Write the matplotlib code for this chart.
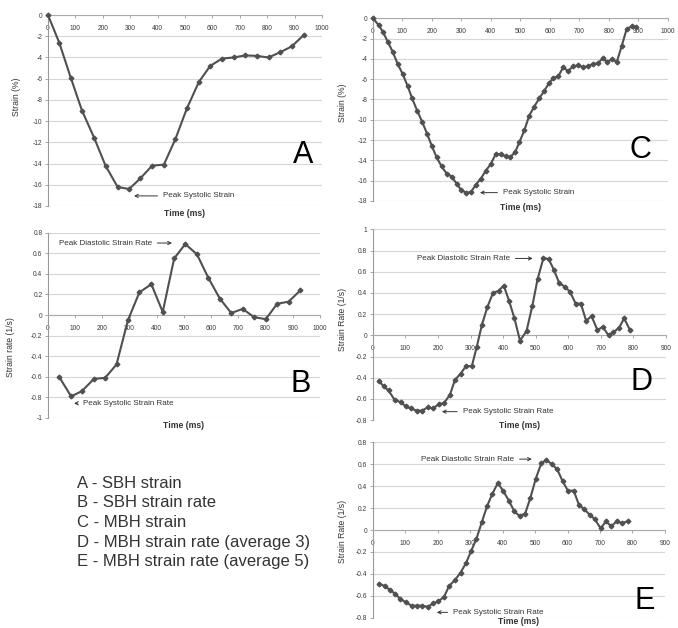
import matplotlib
matplotlib.use("Agg")
import matplotlib.pyplot as plt
from matplotlib.ticker import FuncFormatter
import numpy as np

plt.rcParams['font.family'] = ['Liberation Sans', 'DejaVu Sans']

# A - SBH strain
a_time = [0, 41, 83, 124, 169, 210, 254, 296, 337, 380, 423, 465, 507, 551, 592, 635, 678, 720, 763, 805, 848, 890, 933]
a_strain = [0, -2.6, -5.9, -9.0, -11.6, -14.2, -16.2, -16.4, -15.4, -14.2, -14.1, -11.7, -8.8, -6.3, -4.8, -4.1,
            -4.0, -3.8, -3.85, -4.0, -3.5, -2.95, -1.9]

# B - SBH strain rate
b_time = [41, 85, 124, 169, 210, 252, 294, 336, 380, 422, 464, 505, 548, 590, 632, 674, 716, 758, 801, 843, 885, 928]
b_rate = [-0.6, -0.79, -0.74, -0.62, -0.61, -0.48, -0.05, 0.22, 0.30, 0.03, 0.55, 0.69, 0.59, 0.36, 0.16, 0.02,
          0.06, -0.02, -0.04, 0.11, 0.13, 0.24]

# C - MBH strain
c_time = [0, 20, 35, 50, 67, 84, 101, 118, 133, 150, 167, 184, 200, 216, 233, 250, 267, 284, 299, 316, 333, 349,
          366, 383, 399, 416, 433, 450, 465, 482, 497, 514, 530, 547, 564, 580, 597, 612, 629, 645, 662, 678, 695,
          712, 729, 745, 762, 779, 794, 811, 827, 844, 860, 877, 891]
c_strain = [0, -0.7, -1.4, -2.3, -3.3, -4.5, -5.5, -6.7, -7.9, -9.1, -10.2, -11.4, -12.6, -13.7, -14.6, -15.3,
            -15.6, -16.3, -16.9, -17.2, -17.1, -16.4, -15.8, -15.0, -14.4, -13.4, -13.4, -13.6, -13.7, -13.2,
            -12.2, -11.0, -9.6, -8.7, -7.9, -7.2, -6.4, -5.9, -5.7, -4.85, -5.2, -4.75, -4.65, -4.8, -4.75,
            -4.5, -4.45, -3.95, -4.3, -4.05, -4.3, -2.7, -1.1, -0.8, -0.85]

# D - MBH strain rate (average 3)
d_time = [18, 33, 48, 67, 85, 101, 117, 134, 151, 168, 185, 202, 218, 237, 252, 270, 286, 304, 319, 335, 352, 369,
          386, 402, 419, 435, 452, 472, 490, 506, 524, 540, 556, 573, 590, 606, 623, 639, 655, 672, 690, 706, 724,
          739, 756, 772, 790]
d_rate = [-0.43, -0.48, -0.52, -0.61, -0.63, -0.67, -0.69, -0.71, -0.71, -0.68, -0.69, -0.65, -0.64, -0.56, -0.42,
          -0.36, -0.29, -0.29, -0.11, 0.10, 0.27, 0.40, 0.42, 0.47, 0.32, 0.16, -0.05, 0.04, 0.28, 0.53, 0.73, 0.72,
          0.62, 0.49, 0.46, 0.41, 0.30, 0.30, 0.14, 0.18, 0.05, 0.08, 0.00, 0.03, 0.07, 0.16, 0.05]

# E - MBH strain rate (average 5)
e_time = [19, 36, 52, 68, 85, 102, 119, 136, 152, 169, 186, 202, 219, 235, 253, 270, 287, 303, 319, 336, 352, 368,
          385, 402, 419, 436, 452, 469, 485, 502, 519, 535, 552, 568, 585, 601, 619, 635, 652, 668, 684, 702, 718,
          735, 751, 768, 786]
e_rate = [-0.49, -0.51, -0.545, -0.58, -0.63, -0.66, -0.69, -0.69, -0.69, -0.70, -0.67, -0.65, -0.61, -0.51,
          -0.455, -0.39, -0.30, -0.19, -0.08, 0.075, 0.22, 0.33, 0.43, 0.355, 0.27, 0.17, 0.13, 0.15, 0.29, 0.47,
          0.61, 0.64, 0.60, 0.555, 0.445, 0.36, 0.36, 0.23, 0.19, 0.14, 0.10, 0.015, 0.08, 0.035, 0.08, 0.065, 0.08]

legend_lines = ["A - SBH strain", "B - SBH strain rate", "C - MBH strain",
                "D - MBH strain rate (average 3)", "E - MBH strain rate (average 5)"]

LINE = '#505050'
TXT = '#333333'


def style_axis(ax, xmax, ymin, ymax, ystep):
    yticks = np.round(np.arange(ymin, ymax + ystep / 2, ystep), 2)
    ax.set_xlim(0, xmax)
    ax.set_ylim(ymin, ymax)
    ax.set_yticks(yticks)
    ax.set_xticks(np.arange(0, xmax + 1, 100))
    for s in ['top', 'right']:
        ax.spines[s].set_visible(False)
    ax.spines['bottom'].set_position(('data', 0))
    ax.spines['bottom'].set_color('#aaaaaa')
    ax.spines['left'].set_color('#999999')
    ax.spines['bottom'].set_linewidth(0.8)
    ax.spines['left'].set_linewidth(0.8)
    ax.yaxis.grid(True, color='#d6d6d6', lw=0.8)
    ax.set_axisbelow(True)
    fmt = FuncFormatter(lambda v, p: '%g' % (round(v, 2) + 0.0))
    ax.xaxis.set_major_formatter(fmt)
    ax.yaxis.set_major_formatter(fmt)
    ax.tick_params(axis='both', length=2, width=0.6, color='#999999', labelsize=4.8, labelcolor='#3a3a3a')
    ax.tick_params(axis='x', pad=5)
    ax.tick_params(axis='y', pad=2)


def draw_panel(rect, t, v, xmax, ylim, ystep, ylabel, ylab_pos, letter, letter_pos, xlab_y):
    ax = fig.add_axes(rect)
    style_axis(ax, xmax, ylim[0], ylim[1], ystep)
    ax.plot(t, v, color=LINE, lw=1.5, marker='D', ms=2.4, zorder=3, clip_on=False)
    ax.set_ylabel(ylabel, fontsize=6.2, color=TXT)
    ax.yaxis.set_label_coords(ylab_pos[0], ylab_pos[1])
    ax.text(0.5, xlab_y, 'Time (ms)', transform=ax.transAxes, ha='center', va='center',
            fontsize=6.2, fontweight='bold', color=TXT)
    ax.text(letter_pos[0], letter_pos[1], letter, transform=ax.transAxes, ha='center', va='center',
            fontsize=22, color='black')
    return ax


def note(ax, label, tip, start, y, side):
    ax.annotate(label, xy=(tip, y), xytext=(start, y), ha=side, va='center', fontsize=5.8, color=TXT,
                arrowprops=dict(arrowstyle='->', lw=0.7, color=TXT, shrinkA=2, shrinkB=0))


fig = plt.figure(figsize=(6.78, 6.28), dpi=100)

ax_a = draw_panel([0.0708, 0.672, 0.404, 0.304], a_time, a_strain, 1000, (-18, 0), 2,
                  'Strain (%)', (-0.10, 0.57), 'A', (0.93, 0.267), -0.037)
note(ax_a, 'Peak Systolic Strain', 314, 420, -17.05, 'left')

ax_b = draw_panel([0.0708, 0.3344, 0.401, 0.295], b_time, b_rate, 1000, (-1, 0.8), 0.2,
                  'Strain rate (1/s)', (-0.12, 0.383), 'B', (0.93, 0.183), -0.038)
note(ax_b, 'Peak Systolic Strain Rate', 96, 129, -0.857, 'left')
note(ax_b, 'Peak Diastolic Strain Rate', 456, 382, 0.70, 'right')

ax_c = draw_panel([0.550, 0.680, 0.435, 0.291], c_time, c_strain, 1000, (-18, 0), 2,
                  'Strain (%)', (-0.088, 0.535), 'C', (0.908, 0.279), -0.035)
note(ax_c, 'Peak Systolic Strain', 363, 441, -17.18, 'left')

ax_d = draw_panel([0.550, 0.331, 0.432, 0.3037], d_time, d_rate, 900, (-0.8, 1), 0.2,
                  'Strain Rate (1/s)', (-0.088, 0.53), 'D', (0.918, 0.2), -0.026)
note(ax_d, 'Peak Systolic Strain Rate', 212, 276, -0.72, 'left')
note(ax_d, 'Peak Diastolic Strain Rate', 491, 421, 0.726, 'right')

ax_e = draw_panel([0.550, 0.0164, 0.4307, 0.279], e_time, e_rate, 900, (-0.8, 0.8), 0.2,
                  'Strain Rate (1/s)', (-0.088, 0.49), 'E', (0.931, 0.095), -0.019)
note(ax_e, 'Peak Systolic Strain Rate', 197, 247, -0.751, 'left')
note(ax_e, 'Peak Diastolic Strain Rate', 490, 435, 0.648, 'right')

for i, line in enumerate(legend_lines):
    fig.text(77 / 678, 1 - (483.3 + i * 19.6) / 628, line, fontsize=12, color=TXT, ha='left', va='center')

fig.savefig('out.png', dpi=100)
